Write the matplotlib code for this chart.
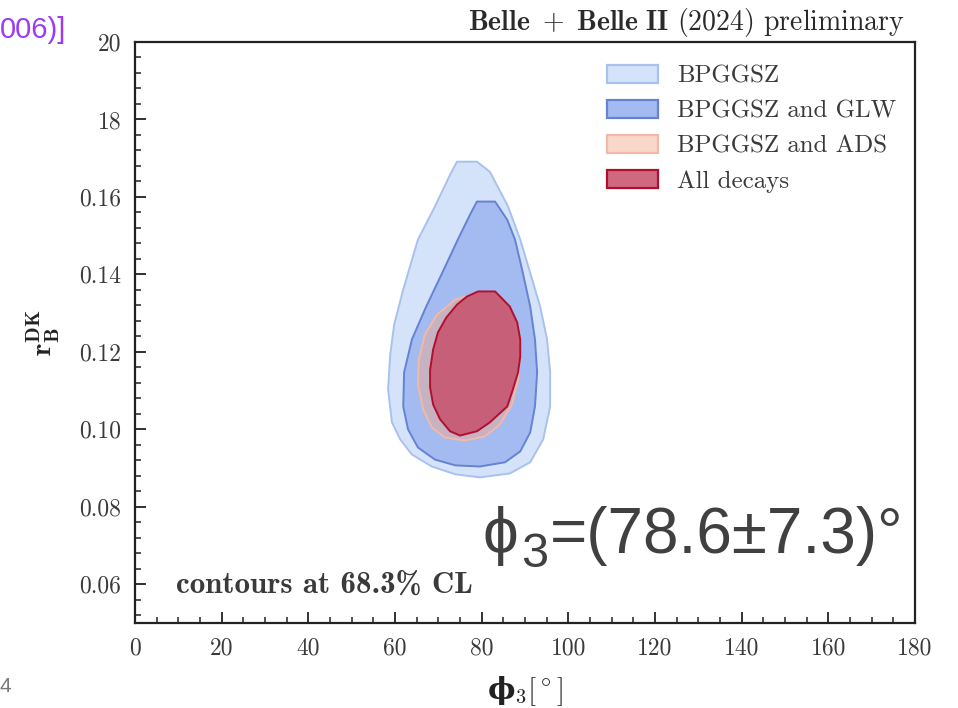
import matplotlib
matplotlib.use("Agg")
import matplotlib.pyplot as plt
from matplotlib.colors import to_rgba
from matplotlib.patches import Polygon, Patch
from matplotlib.ticker import MultipleLocator, FixedLocator, FixedFormatter

# 68.3% CL contour outlines in the (phi3 [deg], r_B^DK) plane
bpggsz_phi3 = [74.3, 78.9, 81.9, 86.1, 88.9, 91.2, 93.5, 95.1, 95.8, 95.8, 94.2, 91.2, 86.5,
               79.6, 73.9, 68.5, 63.9, 61.2, 59.3, 58.4, 58.9, 59.8, 61.9, 65.3, 69.2, 72.7]
bpggsz_rb = [0.1691, 0.1691, 0.1665, 0.1575, 0.1490, 0.1404, 0.1317, 0.1232, 0.1147, 0.1059,
             0.0974, 0.0915, 0.0886, 0.0876, 0.0884, 0.0904, 0.0935, 0.0974, 0.1018, 0.1103,
             0.1193, 0.1270, 0.1361, 0.1490, 0.1575, 0.1657]

glw_phi3 = [78.9, 83.1, 85.9, 87.7, 89.5, 91.2, 92.3, 92.8, 92.3, 91.2, 88.9, 85.4,
            79.6, 73.9, 69.2, 65.3, 63.0, 61.9, 62.1, 63.9, 67.2, 70.9, 74.5, 77.3]
glw_rb = [0.1588, 0.1588, 0.1541, 0.1490, 0.1404, 0.1317, 0.1232, 0.1147, 0.1059, 0.0992,
          0.0943, 0.0915, 0.0904, 0.0907, 0.0922, 0.0953, 0.1000, 0.1059, 0.1147, 0.1232,
          0.1317, 0.1404, 0.1490, 0.1554]

ads_phi3 = [79.2, 82.4, 85.4, 87.7, 88.9, 88.4, 87.0, 84.2, 80.8, 76.2, 71.5, 68.5,
            66.5, 65.3, 65.5, 66.9, 69.7, 73.9]
ads_rb = [0.1353, 0.1353, 0.1322, 0.1270, 0.1206, 0.1129, 0.1064, 0.1013, 0.0982, 0.0971,
          0.0979, 0.1005, 0.1051, 0.1116, 0.1180, 0.1245, 0.1296, 0.1335]

all_phi3 = [79.2, 83.1, 86.5, 88.2, 88.9, 88.9, 88.4, 87.2, 85.9, 81.9, 78.9, 75.0,
            72.7, 70.4, 68.8, 68.1, 68.1, 68.8, 69.9, 71.8, 74.3, 76.6]
all_rb = [0.1356, 0.1356, 0.1317, 0.1276, 0.1232, 0.1188, 0.1147, 0.1103, 0.1059, 0.1018,
          0.0995, 0.0984, 0.0995, 0.1026, 0.1064, 0.1108, 0.1154, 0.1206, 0.1250, 0.1288,
          0.1322, 0.1343]

series_labels = ["BPGGSZ", "BPGGSZ and GLW", "BPGGSZ and ADS", "All decays"]

x_ticks = [0, 20, 40, 60, 80, 100, 120, 140, 160, 180]
x_tick_labels = ["0", "20", "40", "60", "80", "100", "120", "140", "160", "180"]
y_ticks = [0.06, 0.08, 0.10, 0.12, 0.14, 0.16, 0.18, 0.20]
y_tick_labels = ["0.06", "0.08", "0.10", "0.12", "0.14", "0.16", "18", "20"]

phi3_result = 78.6
phi3_error = 7.3

# styles: (face, alpha, edge)
styles = [
    ("#d4e3fa", 1.0, "#a9c1ec"),
    ("#a3bbf0", 1.0, "#6682d2"),
    ("#f4a88c", 0.45, "#f3b8a6"),
    ("#c8546f", 0.88, "#b0102e"),
]

fig = plt.figure(figsize=(9.58, 7.08), dpi=100)
ax = fig.add_axes([135 / 958, 1 - 623 / 708, 780 / 958, 581 / 708])

contours = [(bpggsz_phi3, bpggsz_rb), (glw_phi3, glw_rb), (ads_phi3, ads_rb), (all_phi3, all_rb)]
handles = []
for (xs, ys), (fc, a, ec), lab in zip(contours, styles, series_labels):
    poly = Polygon(list(zip(xs, ys)), closed=True, facecolor=to_rgba(fc, a),
                   edgecolor=ec, linewidth=1.4, joinstyle="round")
    ax.add_patch(poly)
    handles.append(Patch(facecolor=to_rgba(fc, a), edgecolor=ec, linewidth=1.6, label=lab))

ax.set_xlim(0, 180)
ax.set_ylim(0.05, 0.20)

ax.xaxis.set_major_locator(FixedLocator(x_ticks))
ax.xaxis.set_major_formatter(FixedFormatter(x_tick_labels))
ax.yaxis.set_major_locator(FixedLocator(y_ticks))
ax.yaxis.set_major_formatter(FixedFormatter(y_tick_labels))
ax.xaxis.set_minor_locator(MultipleLocator(5))
ax.yaxis.set_minor_locator(MultipleLocator(0.004))
ax.tick_params(which="both", direction="in", top=False, right=False, color="#222222")
ax.tick_params(which="major", length=8, width=1.3, pad=10)
ax.tick_params(which="minor", length=4, width=1.1)
for lbl in ax.get_xticklabels() + ax.get_yticklabels():
    lbl.set_fontfamily("cmr10")
    lbl.set_fontsize(17)
    lbl.set_color("#3a3a3a")
for s in ax.spines.values():
    s.set_linewidth(1.6)
    s.set_color("#222222")

ax.set_xlabel(r"ϕ$_\mathbf{3}[^\circ]$", fontsize=21, family="DejaVu Serif",
              fontweight="bold", math_fontfamily="cm", color="#222222")
ax.xaxis.set_label_coords(0.5, -0.118)
ax.xaxis.label.set_va("center")
ax.set_ylabel(r"$\mathbf{r_B^{DK}}$", fontsize=21, math_fontfamily="cm", color="#222222")
ax.yaxis.set_label_coords(-0.118, 0.5)
ax.yaxis.label.set_va("center")

ax.text(0.987, 1.021, r"$\mathbf{Belle}\ +\ \mathbf{Belle\ II}$ (2024) preliminary",
        transform=ax.transAxes, ha="right", va="baseline", fontsize=20,
        family="cmr10", math_fontfamily="cm", color="#2a2a2a")

ax.text(0.052, 0.065, "contours at 68.3% CL", transform=ax.transAxes, ha="left",
        va="center", fontsize=22.3, family="cmb10", color="#3a3a3a")

leg = ax.legend(handles=handles, loc="upper left", bbox_to_anchor=((607 - 135) / 780, 0.960),
                frameon=False, prop={"family": "cmr10", "size": 17.9}, handlelength=2.05,
                handleheight=0.72, handletextpad=0.78, labelspacing=0.5,
                borderpad=0, borderaxespad=0)
for t in leg.get_texts():
    t.set_color("#3a3a3a")

# phi3 result, written as symbol + lowered subscript + value
sans = ["Liberation Sans", "DejaVu Sans"]
t_phi = ax.text(0.446, 0.12, "ϕ", transform=ax.transAxes, ha="left", va="baseline",
                fontsize=46, family=sans, color="#404040")
t_sub = ax.annotate("3", xy=(1, 0.12), xycoords=(t_phi, "axes fraction"),
                    xytext=(2, -10), textcoords="offset points", ha="left", va="baseline",
                    fontsize=35, family=sans, color="#404040")
ax.annotate("=(%.1f±%.1f)°" % (phi3_result, phi3_error), xy=(1, 0.12),
            xycoords=(t_sub, "axes fraction"), xytext=(1, 0), textcoords="offset points",
            ha="left", va="baseline", fontsize=46, family=sans, color="#404040")

# slide decorations around the figure
fig.text(0.0, 1 - 30 / 708, "006)]", ha="left", va="center", fontsize=21,
         family="Liberation Sans", color="#9b3cf5")
fig.text(0.0, 1 - 687 / 708, "4", ha="left", va="center", fontsize=15,
         family="Liberation Sans", color="#7a7a7a")

fig.savefig("out.png", dpi=100)
